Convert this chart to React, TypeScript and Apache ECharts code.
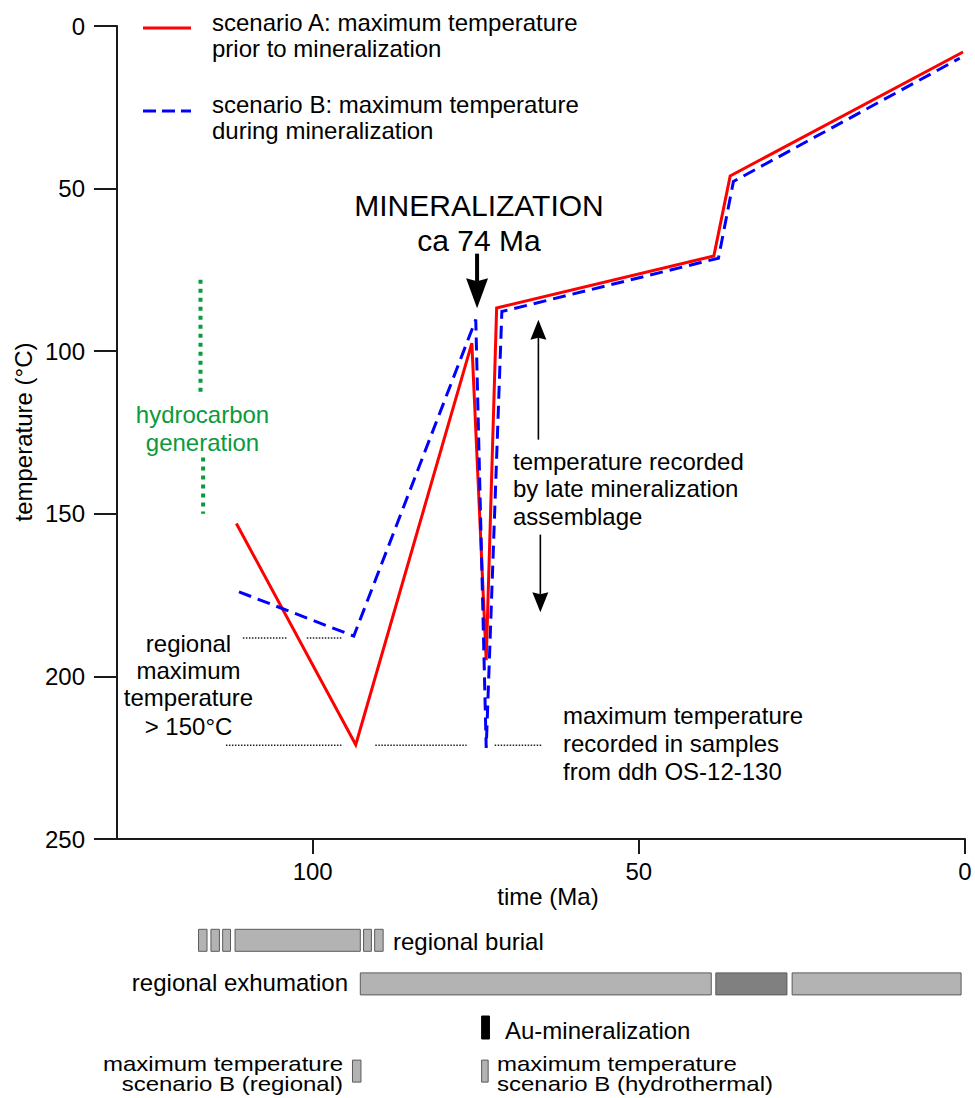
import React, { useEffect, useRef } from 'react';
import * as echarts from 'echarts';

const FONT = '"Liberation Sans", Arial, Helvetica, sans-serif';

// ---- Data (time in Ma, temperature in °C) ----
const scenarioATime = [111.7, 93.4, 75.6, 73.4, 71.8, 38.5, 36.0, 0.3];
const scenarioATemp = [153, 221, 97.5, 195, 86.7, 70.7, 46.1, 8];
const scenarioBTime = [111.3, 93.7, 75.0, 73.4, 71.0, 37.8, 35.5, 0.8];
const scenarioBTemp = [174, 187.6, 90.3, 222, 87.8, 71.4, 47.8, 9.9];

const hydrocarbonTime = [117.2, 116.8];
const hydrocarbonFrom = [78, 132.7];
const hydrocarbonTo = [112.8, 150];

const regionalMaxTemp = 188.2;
const regionalMaxStart = [110.7, 100.9];
const regionalMaxEnd = [103.9, 95.4];
const sampleMaxTemp = 221.2;
const sampleMaxStart = [113.3, 90.4, 72.1];
const sampleMaxEnd = [95.6, 76.4, 64.9];

const arrowTime = [74.8, 65.4, 65.1];
const arrowFrom = [70, 127.2, 156.4];
const arrowTo = [86.8, 90.3, 180.3];

const xTicks = [0, 50, 100];

const burialStart = [117.5, 115.6, 113.8, 111.9, 92.2, 90.5];
const burialEnd = [116.2, 114.3, 112.6, 92.7, 91.0, 89.2];
const exhumationStart = [92.7, 38.2, 26.5];
const exhumationEnd = [38.9, 27.3, 0.6];
const exhumationShade = [0, 1, 0];
const auStart = [74.1];
const auEnd = [72.9];
const maxTempBStart = [93.9, 74.1];
const maxTempBEnd = [92.6, 73.1];

// ---- styles ----
const arrowStyles = [
  { head: 30, width: 22, shaft: 4, notch: 3 },
  { head: 20, width: 16, shaft: 1.6, notch: 2 },
  { head: 20, width: 16, shaft: 1.6, notch: 2 },
];
const shadeFill = ['#b3b3b3', '#808080', '#000000'];

function txt(text: string, x: number, y: number, align: string, opts: any = {}) {
  const style: any = {
    text,
    fontSize: opts.size || 24,
    fontFamily: FONT,
    fill: opts.fill || '#000',
    align,
    verticalAlign: 'middle',
  };
  return {
    type: 'text',
    x,
    y,
    rotation: opts.rotation || 0,
    scaleX: opts.scaleX || 1,
    z: 10,
    style,
  };
}

export default function App() {
  const ref = useRef<HTMLDivElement>(null);

  useEffect(() => {
    if (!ref.current) return;
    const chart = echarts.init(ref.current, null, { renderer: 'svg' });

    const axisColor = '#1a1a1a';

    const seg = (t0: number, t1: number, T0: number, T1: number) => [
      [t0, T0],
      [t1, T1],
    ];

    const dottedSeries: any[] = [];
    regionalMaxStart.forEach((s, i) => {
      dottedSeries.push({
        type: 'line',
        data: seg(s, regionalMaxEnd[i], regionalMaxTemp, regionalMaxTemp),
        symbol: 'none',
        lineStyle: { color: '#222', width: 1.5, type: [1.5, 1.5] },
        silent: true,
      });
    });
    sampleMaxStart.forEach((s, i) => {
      dottedSeries.push({
        type: 'line',
        data: seg(s, sampleMaxEnd[i], sampleMaxTemp, sampleMaxTemp),
        symbol: 'none',
        lineStyle: { color: '#222', width: 1.5, type: [1.5, 1.5] },
        silent: true,
      });
    });
    hydrocarbonTime.forEach((t, i) => {
      dottedSeries.push({
        type: 'line',
        data: seg(t, t, hydrocarbonFrom[i], hydrocarbonTo[i]),
        symbol: 'none',
        lineStyle: { color: '#0b9a3c', width: 4, type: [4, 5] },
        silent: true,
      });
    });

    const barData = [
      ...burialStart.map((s, i) => [s, burialEnd[i], 0, 0]),
      ...exhumationStart.map((s, i) => [s, exhumationEnd[i], 1, exhumationShade[i]]),
      ...auStart.map((s, i) => [s, auEnd[i], 2, 2]),
      ...maxTempBStart.map((s, i) => [s, maxTempBEnd[i], 3, 0]),
    ];

    const option: any = {
      animation: false,
      textStyle: { fontFamily: FONT },
      grid: [
        { left: 117, right: 10, top: 26, bottom: 259 },
        { left: 117, right: 10, top: 918.5, height: 174.4 },
      ],
      xAxis: [
        {
          type: 'value',
          gridIndex: 0,
          min: 0,
          max: 130,
          inverse: true,
          position: 'bottom',
          axisLine: { show: true, onZero: false, lineStyle: { color: axisColor, width: 2 } },
          axisTick: {
            show: true,
            length: 15,
            customValues: xTicks,
            lineStyle: { color: axisColor, width: 2 },
          },
          axisLabel: {
            customValues: xTicks,
            fontSize: 24,
            color: '#000',
            margin: 20,
            fontFamily: FONT,
          },
          splitLine: { show: false },
        },
        { type: 'value', gridIndex: 1, min: 0, max: 130, inverse: true, show: false },
      ],
      yAxis: [
        {
          type: 'value',
          gridIndex: 0,
          min: 0,
          max: 250,
          interval: 50,
          inverse: true,
          axisLine: { show: true, onZero: false, lineStyle: { color: axisColor, width: 2 } },
          axisTick: { show: true, length: 23, lineStyle: { color: axisColor, width: 2 } },
          axisLabel: { fontSize: 24, color: '#000', margin: 32, fontFamily: FONT },
          splitLine: { show: false },
        },
        { type: 'value', gridIndex: 1, min: -0.5, max: 3.5, inverse: true, show: false },
      ],
      series: [
        ...dottedSeries,
        {
          name: 'scenario A',
          type: 'line',
          data: scenarioATime.map((t, i) => [t, scenarioATemp[i]]),
          symbol: 'none',
          lineStyle: { color: '#ff0000', width: 3, join: 'miter' },
          z: 3,
        },
        {
          name: 'scenario B',
          type: 'line',
          data: scenarioBTime.map((t, i) => [t, scenarioBTemp[i]]),
          symbol: 'none',
          lineStyle: { color: '#0000ff', width: 3, type: [13, 7], join: 'miter' },
          z: 4,
        },
        {
          type: 'custom',
          xAxisIndex: 0,
          yAxisIndex: 0,
          data: arrowTime.map((t, i) => [t, arrowFrom[i], arrowTo[i]]),
          renderItem: (params: any, api: any) => {
            const st = arrowStyles[params.dataIndex];
            const p0 = api.coord([api.value(0), api.value(1)]);
            const p1 = api.coord([api.value(0), api.value(2)]);
            const dir = Math.sign(p1[1] - p0[1]);
            const base = p1[1] - dir * st.head;
            return {
              type: 'group',
              children: [
                {
                  type: 'line',
                  shape: { x1: p0[0], y1: p0[1], x2: p1[0], y2: base + dir * st.notch },
                  style: { stroke: '#000', lineWidth: st.shaft },
                },
                {
                  type: 'polygon',
                  shape: {
                    points: [
                      [p1[0], p1[1]],
                      [p1[0] - st.width / 2, base],
                      [p1[0], base + dir * st.notch],
                      [p1[0] + st.width / 2, base],
                    ],
                  },
                  style: { fill: '#000' },
                },
              ],
            };
          },
          z: 5,
        },
        {
          type: 'custom',
          xAxisIndex: 1,
          yAxisIndex: 1,
          data: barData,
          renderItem: (params: any, api: any) => {
            const s = api.coord([api.value(0), api.value(2)]);
            const e = api.coord([api.value(1), api.value(2)]);
            const shade = api.value(3);
            const h = shade === 2 ? 23 : 22;
            return {
              type: 'rect',
              shape: {
                x: Math.min(s[0], e[0]),
                y: s[1] - h / 2,
                width: Math.abs(e[0] - s[0]),
                height: h,
              },
              style: {
                fill: shadeFill[shade],
                stroke: shade === 2 ? '#000' : '#5a5a5a',
                lineWidth: 1,
              },
            };
          },
        },
      ],
      graphic: [
        // legend
        {
          type: 'line',
          shape: { x1: 143, y1: 28, x2: 191, y2: 28 },
          style: { stroke: '#ff0000', lineWidth: 3 },
        },
        {
          type: 'line',
          shape: { x1: 143, y1: 111, x2: 191, y2: 111 },
          style: { stroke: '#0000ff', lineWidth: 3, lineDash: [13, 6] },
        },
        txt('scenario A: maximum temperature', 212, 22, 'left'),
        txt('prior to mineralization', 212, 48, 'left'),
        txt('scenario B: maximum temperature', 212, 104, 'left'),
        txt('during mineralization', 212, 130, 'left'),
        // mineralization
        txt('MINERALIZATION', 479, 205, 'center', { size: 30 }),
        txt('ca 74 Ma', 479, 240, 'center', { size: 30 }),
        // hydrocarbon
        txt('hydrocarbon', 202.5, 414, 'center', { fill: '#0b9a3c' }),
        txt('generation', 202.5, 442, 'center', { fill: '#0b9a3c' }),
        // regional maximum
        txt('regional', 188.5, 643, 'center'),
        txt('maximum', 188.5, 670, 'center'),
        txt('temperature', 188.5, 697, 'center'),
        txt('> 150°C', 188.5, 726, 'center'),
        // late mineralization
        txt('temperature recorded', 513, 461, 'left'),
        txt('by late mineralization', 513, 488, 'left'),
        txt('assemblage', 513, 516, 'left'),
        // samples
        txt('maximum temperature', 563, 715, 'left'),
        txt('recorded in samples', 563, 743, 'left'),
        txt('from ddh OS-12-130', 563, 771, 'left'),
        // axis names
        txt('temperature (°C)', 23, 432, 'center', { rotation: Math.PI / 2 }),
        txt('time (Ma)', 548, 896, 'center'),
        // bottom bar labels
        txt('regional burial', 393, 941, 'left'),
        txt('regional exhumation', 348, 982, 'right'),
        txt('Au-mineralization', 505, 1030, 'left'),
        txt('maximum temperature', 343, 1064, 'right', { size: 20, scaleX: 1.2 }),
        txt('scenario B (regional)', 343, 1084.5, 'right', { size: 20, scaleX: 1.2 }),
        txt('maximum temperature', 497, 1064, 'left', { size: 20, scaleX: 1.2 }),
        txt('scenario B (hydrothermal)', 497, 1084.5, 'left', { size: 20, scaleX: 1.2 }),
      ],
    };

    chart.setOption(option);
    return () => {
      chart.dispose();
    };
  }, []);

  return (
    <div
      ref={ref}
      style={{ position: 'absolute', left: 0, top: 0, width: 975, height: 1098, background: '#fff' }}
    />
  );
}
